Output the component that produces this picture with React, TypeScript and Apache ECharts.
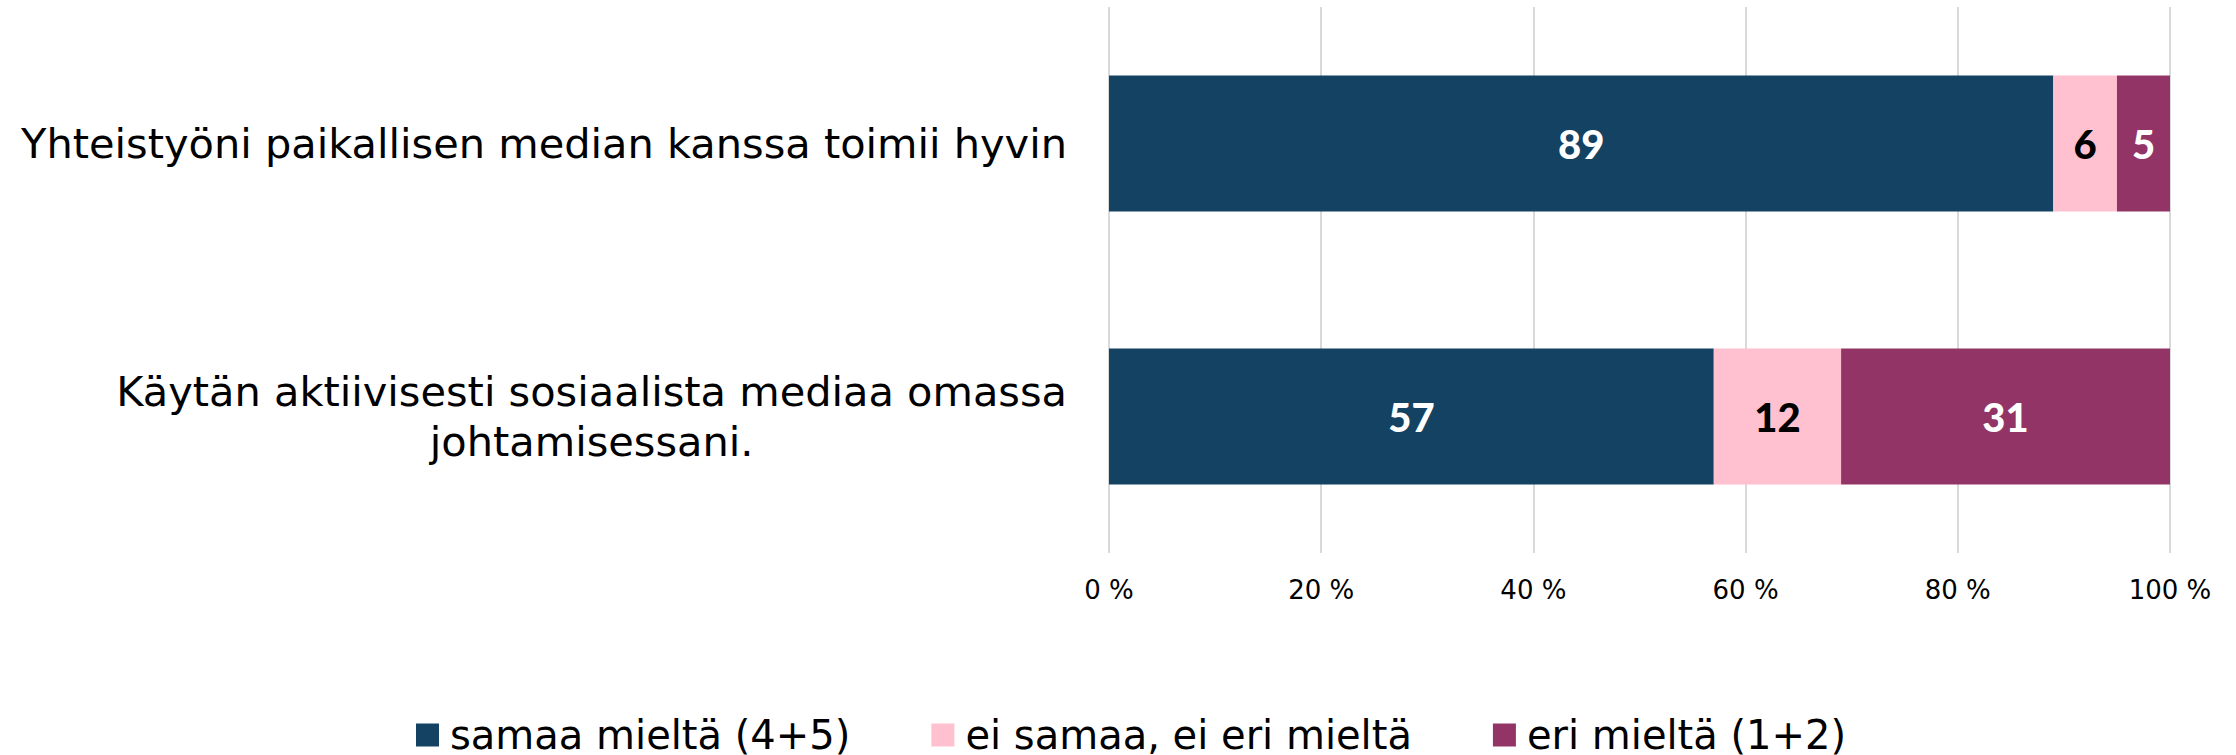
import React, { useEffect, useRef } from "react";
import * as echarts from "echarts";

const categories = [
  "Yhteistyöni paikallisen median kanssa toimii hyvin",
  "Käytän aktiivisesti sosiaalista mediaa omassa\njohtamisessani.",
];
const seriesNames = ["samaa mieltä (4+5)", "ei samaa, ei eri mieltä", "eri mieltä (1+2)"];
const agree = [89, 57];
const neutral = [6, 12];
const disagree = [5, 31];
const xTicks = [0, 20, 40, 60, 80, 100];

const colors = ["#134263", "#FFC0CF", "#933466"];
const labelColors = ["#ffffff", "#000000", "#ffffff"];

export default function App() {
  const ref = useRef<HTMLDivElement>(null);
  useEffect(() => {
    if (!ref.current) return;
    const chart = echarts.init(ref.current, undefined, { renderer: "svg" });
    const font = "'DejaVu Sans', 'Open Sans', sans-serif";
    const data = [agree, neutral, disagree];
    const option = {
      animation: false,
      grid: { left: 1109, right: 66, top: 7, bottom: 202, containLabel: false },
      legend: {
        data: seriesNames,
        top: 710,
        left: 411,
        icon: "rect",
        itemWidth: 23,
        itemHeight: 23,
        itemGap: 81,
        textStyle: { fontFamily: font, fontSize: 40, color: "#000", padding: [0, 0, 0, 6] },
      },
      xAxis: {
        type: "value",
        min: xTicks[0],
        max: xTicks[xTicks.length - 1],
        interval: 20,
        axisLine: { show: false },
        axisTick: { show: false },
        splitLine: { show: true, lineStyle: { color: "#d9d9d9", width: 2 } },
        axisLabel: {
          formatter: (v: number) => v + " %",
          fontFamily: font,
          fontSize: 26,
          color: "#000",
          margin: 24,
        },
      },
      yAxis: {
        type: "category",
        data: categories,
        inverse: true,
        axisLine: { show: false },
        axisTick: { show: false },
        axisLabel: {
          margin: 42,
          fontFamily: font,
          fontSize: 41.5,
          color: "#000",
          lineHeight: 50,
          formatter: (v: string) =>
            v
              .split("\n")
              .map((l) => "{c|" + l + "}")
              .join("\n"),
          rich: {
            c: { align: "center", fontFamily: font, fontSize: 41.5, color: "#000", lineHeight: 50 },
          },
        },
      },
      series: seriesNames.map((name, i) => ({
        name,
        type: "bar",
        stack: "total",
        barWidth: 136,
        data: data[i],
        itemStyle: { color: colors[i] },
        label: {
          show: true,
          position: "inside",
          color: labelColors[i],
          fontFamily: "Lato, 'Open Sans', sans-serif",
          fontWeight: 900,
          fontSize: 40,
        },
      })),
    };
    chart.setOption(option as any);
    return () => chart.dispose();
  }, []);
  return (
    <div
      ref={ref}
      style={{ position: "fixed", left: 0, top: 0, width: 2236, height: 755, background: "#fff" }}
    />
  );
}
